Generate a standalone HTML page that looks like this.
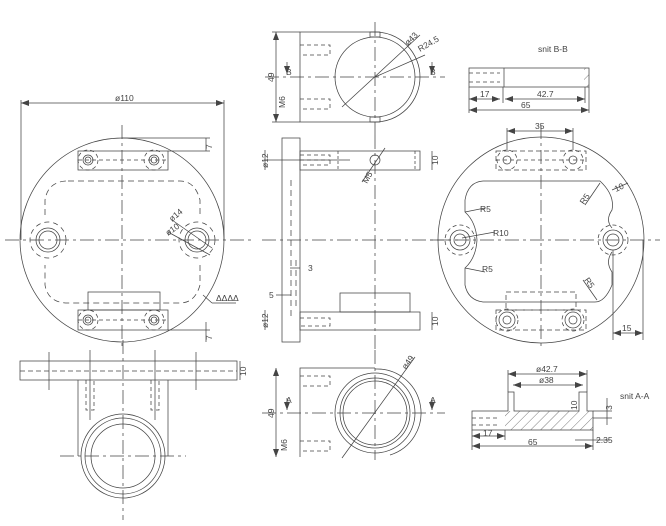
<!DOCTYPE html>
<html><head><meta charset="utf-8"><style>
html,body{margin:0;padding:0;background:#fff;}
svg{display:block;}
text{font-family:"Liberation Sans",sans-serif;font-size:8.5px;fill:#444;}
</style></head><body>
<svg width="666" height="526" viewBox="0 0 666 526" xmlns="http://www.w3.org/2000/svg">
<defs>
<marker id="a" markerWidth="8" markerHeight="6" refX="8" refY="3" orient="auto-start-reverse" markerUnits="userSpaceOnUse"><path d="M0,0 L8,3 L0,6 z" fill="#444"/></marker>
<pattern id="h" width="7" height="7" patternUnits="userSpaceOnUse" patternTransform="rotate(45)"><line x1="0" y1="0" x2="0" y2="7" stroke="#444" stroke-width="0.7"/></pattern>
</defs>
<g fill="none" stroke="#444" stroke-width="0.75">
<!-- ===== LEFT PLAN VIEW ===== -->
<circle cx="122" cy="240" r="102"/>
<line x1="5" y1="240" x2="255" y2="240" stroke-dasharray="14,4,3,4"/>
<line x1="122" y1="125" x2="122" y2="350" stroke-dasharray="14,4,3,4"/>
<line x1="21" y1="103" x2="224" y2="103" marker-start="url(#a)" marker-end="url(#a)"/>
<line x1="21" y1="100" x2="21" y2="240"/><line x1="224" y1="100" x2="224" y2="240"/>
<rect x="78" y="151" width="90" height="19"/>
<line x1="78" y1="160" x2="168" y2="160" stroke-dasharray="4,3"/>
<circle cx="88" cy="160" r="5"/><circle cx="88" cy="160" r="3"/><circle cx="88" cy="160" r="10" stroke-dasharray="4,3"/>
<circle cx="154" cy="160" r="5"/><circle cx="154" cy="160" r="3"/><circle cx="154" cy="160" r="10" stroke-dasharray="4,3"/>
<line x1="122" y1="138" x2="210" y2="138"/><line x1="168" y1="151" x2="210" y2="151"/>
<line x1="206" y1="138" x2="206" y2="151"/>
<path d="M68,181 L180,181 Q195,181 200,200 L200,215 M200,265 L200,285 Q195,303 180,303 L68,303 Q48,303 45,285 L45,265 M45,215 L45,200 Q48,181 68,181" stroke-dasharray="6,4"/>
<circle cx="48" cy="240" r="12"/><circle cx="48" cy="240" r="9"/><circle cx="48" cy="240" r="18" stroke-dasharray="5,4"/>
<circle cx="197" cy="240" r="12"/><circle cx="197" cy="240" r="9"/><circle cx="197" cy="240" r="18" stroke-dasharray="5,4"/>
<line x1="172" y1="220" x2="212" y2="248"/><line x1="168" y1="232" x2="210" y2="255"/>
<rect x="88" y="292" width="72" height="18"/>
<rect x="78" y="310" width="90" height="20"/>
<line x1="78" y1="320" x2="168" y2="320" stroke-dasharray="4,3"/>
<circle cx="88" cy="320" r="5"/><circle cx="88" cy="320" r="3"/><circle cx="88" cy="320" r="10" stroke-dasharray="4,3"/>
<circle cx="154" cy="320" r="5"/><circle cx="154" cy="320" r="3"/><circle cx="154" cy="320" r="10" stroke-dasharray="4,3"/>
<line x1="168" y1="330" x2="210" y2="330"/><line x1="206" y1="322" x2="206" y2="342"/>
<line x1="203" y1="295" x2="212" y2="303"/><line x1="212" y1="303" x2="236" y2="303"/>
<!-- ===== LEFT FRONT VIEW ===== -->
<rect x="20" y="361" width="217" height="19"/>
<line x1="20" y1="371" x2="237" y2="371" stroke-dasharray="5,3"/>
<line x1="78" y1="380" x2="78" y2="456"/><line x1="168" y1="380" x2="168" y2="456"/>
<line x1="49" y1="352" x2="49" y2="390"/><line x1="196" y1="352" x2="196" y2="390"/>
<line x1="90" y1="350" x2="90" y2="420"/><line x1="155" y1="350" x2="155" y2="420"/>
<path d="M86,380 L86,410 L94,410 L94,380 M151,380 L151,410 L159,410 L159,380" stroke-dasharray="4,3"/>
<line x1="240" y1="361" x2="240" y2="380"/>
<circle cx="123" cy="456" r="42"/><circle cx="123" cy="456" r="38"/><circle cx="123" cy="456" r="32"/>
<line x1="60" y1="456" x2="186" y2="456" stroke-dasharray="14,4,3,4"/>
<line x1="123" y1="340" x2="123" y2="520" stroke-dasharray="14,4,3,4"/>
<!-- ===== MIDDLE TOP VIEW ===== -->
<path d="M375,32 L300,32 L300,122 L375,122"/>
<circle cx="375" cy="77" r="40"/>
<path d="M375,32 A45,45 0 0 1 375,122"/>
<rect x="370" y="32" width="10" height="5"/><rect x="370" y="117" width="10" height="5"/>
<line x1="265" y1="77" x2="445" y2="77" stroke-dasharray="14,4,3,4"/>
<line x1="375" y1="22" x2="375" y2="135" stroke-dasharray="14,4,3,4"/>
<line x1="276" y1="32" x2="276" y2="122" marker-start="url(#a)" marker-end="url(#a)"/>
<line x1="272" y1="32" x2="300" y2="32"/><line x1="272" y1="122" x2="300" y2="122"/>
<path d="M300,45 L330,45 L330,55 L300,55 M300,99 L330,99 L330,109 L300,109" stroke-dasharray="4,3"/>
<line x1="342" y1="107" x2="420" y2="35"/><line x1="375" y1="77" x2="425" y2="55"/>
<line x1="287" y1="62" x2="287" y2="74" marker-end="url(#a)"/><line x1="432" y1="62" x2="432" y2="74" marker-end="url(#a)"/>
<!-- ===== MIDDLE SIDE VIEW ===== -->
<rect x="282" y="138" width="18" height="204"/>
<rect x="300" y="151" width="120" height="19"/>
<path d="M300,160 L330,160 M300,155 L330,155 L330,165 L300,165" stroke-dasharray="4,3"/>
<line x1="338" y1="151" x2="338" y2="170" stroke-dasharray="3,2"/><line x1="415" y1="151" x2="415" y2="170" stroke-dasharray="3,2"/>
<circle cx="375" cy="160" r="5"/>
<line x1="362" y1="182" x2="385" y2="148"/>
<line x1="264" y1="160" x2="350" y2="160"/>
<rect x="300" y="312" width="120" height="18"/>
<rect x="340" y="293" width="70" height="19"/>
<path d="M300,318 L330,318 L330,326 L300,326" stroke-dasharray="4,3"/>
<path d="M291,180 L291,320 M296,260 L296,310" stroke-dasharray="6,4"/>
<line x1="262" y1="240" x2="460" y2="240" stroke-dasharray="14,4,3,4"/>
<line x1="375" y1="135" x2="375" y2="350" stroke-dasharray="14,4,3,4"/>
<line x1="432" y1="151" x2="432" y2="170"/><line x1="432" y1="312" x2="432" y2="330"/>
<line x1="265" y1="150" x2="265" y2="170"/><line x1="265" y1="310" x2="265" y2="330"/>
<line x1="290" y1="268" x2="300" y2="268"/><line x1="276" y1="295" x2="291" y2="295"/>
<!-- ===== MIDDLE BOTTOM VIEW ===== -->
<path d="M375,368 L300,368 L300,457"/>
<circle cx="375" cy="413" r="40"/><circle cx="375" cy="413" r="35"/><circle cx="375" cy="413" r="32"/>
<path d="M375,369 A44,44 0 0 1 390,455"/>
<line x1="262" y1="413" x2="445" y2="413" stroke-dasharray="14,4,3,4"/>
<line x1="375" y1="350" x2="375" y2="460" stroke-dasharray="14,4,3,4"/>
<line x1="276" y1="368" x2="276" y2="457" marker-start="url(#a)" marker-end="url(#a)"/>
<path d="M300,376 L330,376 L330,386 L300,386 M300,441 L330,441 L330,451 L300,451" stroke-dasharray="4,3"/>
<line x1="342" y1="458" x2="415" y2="357"/>
<line x1="287" y1="398" x2="287" y2="410" marker-end="url(#a)"/><line x1="432" y1="398" x2="432" y2="410" marker-end="url(#a)"/>
<!-- ===== RIGHT PLAN VIEW ===== -->
<circle cx="541" cy="240" r="103"/>
<line x1="430" y1="240" x2="660" y2="240" stroke-dasharray="14,4,3,4"/>
<line x1="541" y1="125" x2="541" y2="350" stroke-dasharray="14,4,3,4"/>
<rect x="496" y="151" width="90" height="19" stroke-dasharray="5,3"/>
<line x1="496" y1="160" x2="586" y2="160" stroke-dasharray="4,3"/>
<circle cx="507" cy="160" r="4"/><circle cx="507" cy="160" r="10" stroke-dasharray="4,3"/>
<circle cx="573" cy="160" r="4"/><circle cx="573" cy="160" r="10" stroke-dasharray="4,3"/>
<line x1="507" y1="128" x2="507" y2="150"/><line x1="573" y1="128" x2="573" y2="150"/>
<line x1="507" y1="131" x2="573" y2="131" marker-start="url(#a)" marker-end="url(#a)"/>
<path d="M483,181 L600,181 Q615,195 612,210 Q605,220 612,228 M612,252 Q605,262 612,272 L612,285 Q605,302 595,302 L483,302 Q468,300 465,285 L465,268 Q476,258 477,240 Q476,222 465,212 L465,200 Q468,182 483,181"/>
<circle cx="460" cy="240" r="10"/><circle cx="460" cy="240" r="6"/><circle cx="460" cy="240" r="15" stroke-dasharray="4,3"/>
<circle cx="613" cy="240" r="10"/><circle cx="613" cy="240" r="6"/><circle cx="613" cy="240" r="15" stroke-dasharray="4,3"/>
<rect x="506" y="292" width="70" height="18" stroke-dasharray="5,3"/>
<rect x="496" y="310" width="90" height="20" stroke-dasharray="5,3"/>
<circle cx="507" cy="320" r="4"/><circle cx="507" cy="320" r="8"/><circle cx="507" cy="320" r="11" stroke-dasharray="4,3"/>
<circle cx="573" cy="320" r="4"/><circle cx="573" cy="320" r="8"/><circle cx="573" cy="320" r="11" stroke-dasharray="4,3"/>
<line x1="465" y1="212" x2="485" y2="208"/><line x1="462" y1="238" x2="495" y2="232"/><line x1="465" y1="268" x2="485" y2="272"/>
<line x1="600" y1="183" x2="585" y2="205"/><line x1="612" y1="190" x2="628" y2="183"/><line x1="597" y1="300" x2="583" y2="280"/>
<line x1="613" y1="250" x2="613" y2="340"/><line x1="643" y1="240" x2="643" y2="340"/>
<line x1="613" y1="333" x2="643" y2="333" marker-start="url(#a)" marker-end="url(#a)"/>
<!-- ===== SECTION B-B ===== -->
<rect x="469" y="68" width="120" height="19"/>
<line x1="504" y1="68" x2="504" y2="87"/>
<path d="M469,73 L500,73 M469,82 L500,82" stroke-dasharray="4,3"/>
<rect x="584" y="68" width="5" height="19" fill="url(#h)" stroke="none"/>
<line x1="469" y1="87" x2="469" y2="113"/><line x1="589" y1="87" x2="589" y2="113"/><line x1="503" y1="87" x2="503" y2="103"/><line x1="585" y1="87" x2="585" y2="103"/>
<line x1="469" y1="99" x2="500" y2="99" marker-start="url(#a)" marker-end="url(#a)"/>
<line x1="505" y1="99" x2="585" y2="99" marker-start="url(#a)" marker-end="url(#a)"/>
<line x1="469" y1="110" x2="589" y2="110" marker-start="url(#a)" marker-end="url(#a)"/>
<!-- ===== SECTION A-A ===== -->
<path d="M472,411 L508,411 L508,392 L514,392 L514,411 L579,411 L579,392 L587,392 L587,411 L593,411 L593,430 L472,430 Z"/>
<path d="M505,411 L593,411 L593,430 L505,430 Z" fill="url(#h)" stroke="none"/>
<path d="M472,418 L500,418 M472,425 L500,425" stroke-dasharray="4,3"/>
<line x1="508" y1="370" x2="508" y2="392"/><line x1="587" y1="370" x2="587" y2="392"/>
<line x1="508" y1="374" x2="587" y2="374" marker-start="url(#a)" marker-end="url(#a)"/>
<line x1="513" y1="385" x2="583" y2="385" marker-start="url(#a)" marker-end="url(#a)"/>
<line x1="472" y1="430" x2="472" y2="450"/><line x1="593" y1="430" x2="593" y2="450"/><line x1="505" y1="430" x2="505" y2="440"/>
<line x1="472" y1="436" x2="505" y2="436" marker-start="url(#a)" marker-end="url(#a)"/>
<line x1="472" y1="446" x2="593" y2="446" marker-start="url(#a)" marker-end="url(#a)"/>
<line x1="593" y1="411" x2="612" y2="411"/><line x1="593" y1="418" x2="612" y2="418"/>
<line x1="607" y1="398" x2="607" y2="425"/>
<line x1="575" y1="440" x2="610" y2="440"/>
</g>
<g>
<text x="115" y="101">ø110</text>
<text x="212" y="149" transform="rotate(-90 212 149)">7</text>
<text x="212" y="340" transform="rotate(-90 212 340)">7</text>
<text x="172" y="222" transform="rotate(-40 172 222)">ø14</text>
<text x="168" y="236" transform="rotate(-35 168 236)">ø10</text>
<text x="216" y="301" font-size="8">ΔΔΔΔ</text>
<text x="246" y="376" transform="rotate(-90 246 376)" font-size="8">10</text>
<text x="274" y="82" transform="rotate(-90 274 82)">49</text>
<text x="286" y="75" font-size="7">B</text><text x="430" y="75" font-size="7">B</text>
<text x="285" y="108" transform="rotate(-90 285 108)" font-size="7">M6</text>
<text x="408" y="46" transform="rotate(-45 408 46)">ø43</text>
<text x="420" y="52" transform="rotate(-30 420 52)">R24.5</text>
<text x="268" y="168" transform="rotate(-90 268 168)">ø12</text>
<text x="268" y="328" transform="rotate(-90 268 328)">ø12</text>
<text x="438" y="165" transform="rotate(-90 438 165)">10</text>
<text x="438" y="326" transform="rotate(-90 438 326)">10</text>
<text x="367" y="184" transform="rotate(-60 367 184)" font-size="8">M5</text>
<text x="308" y="271">3</text><text x="269" y="298">5</text>
<text x="274" y="418" transform="rotate(-90 274 418)">49</text>
<text x="286" y="403" font-size="7">A</text><text x="430" y="403" font-size="7">A</text>
<text x="287" y="451" transform="rotate(-90 287 451)" font-size="7">M6</text>
<text x="406" y="370" transform="rotate(-55 406 370)">ø49</text>
<text x="535" y="129">35</text>
<text x="480" y="212">R5</text><text x="493" y="236">R10</text><text x="482" y="272">R5</text>
<text x="584" y="205" transform="rotate(-55 584 205)">R5</text>
<text x="616" y="192" transform="rotate(-25 616 192)">10</text>
<text x="584" y="280" transform="rotate(55 584 280)">R5</text>
<text x="622" y="331">15</text>
<text x="538" y="52" font-size="8">snit B-B</text>
<text x="480" y="97">17</text><text x="537" y="97">42.7</text><text x="521" y="108">65</text>
<text x="536" y="372">ø42.7</text><text x="539" y="383">ø38</text>
<text x="577" y="410" transform="rotate(-90 577 410)" font-size="8">10</text>
<text x="612" y="410" transform="rotate(-90 612 410)">3</text>
<text x="620" y="399" font-size="8">snit A-A</text>
<text x="483" y="436">17</text><text x="528" y="445">65</text><text x="596" y="443">2.35</text>
</g>
</svg>
</body></html>
